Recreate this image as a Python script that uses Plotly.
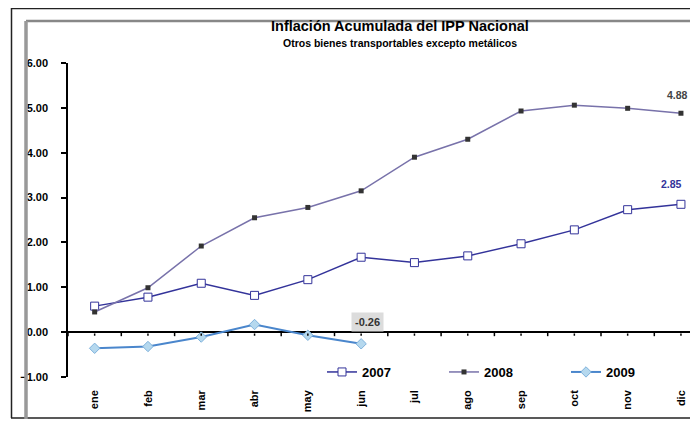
import plotly.graph_objects as go

months = ["ene", "feb", "mar", "abr", "may", "jun", "jul", "ago", "sep", "oct", "nov", "dic"]
s2007 = [0.58, 0.78, 1.09, 0.82, 1.17, 1.67, 1.55, 1.70, 1.97, 2.28, 2.73, 2.85]
s2008 = [0.45, 0.99, 1.92, 2.55, 2.78, 3.15, 3.90, 4.30, 4.93, 5.06, 4.99, 4.88]
s2009 = [-0.36, -0.32, -0.11, 0.17, -0.07, -0.26]
yticks = [-1, 0, 1, 2, 3, 4, 5, 6]

# page has an 8px body margin on every side; keep the page inside the window
OFF = 8
W, H = 698 - 2 * OFF, 427 - 2 * OFF
SL, ST, SB = 68, 63, 377                     # plot area edges in screen pixels
SR = W + OFF                                 # plot runs to the figure's right edge
L, T = SL - OFF, ST - OFF
R = 0
B = H - (SB - OFF)
PW = SR - SL
PH = SB - ST
STEP = 53.3                                  # px per category in the original
XMAX = -0.5 + PW / STEP

def px(x):
    return (x - SL) / PW

def py(y):
    return (SB - y) / PH

font = "Liberation Sans, Arial, sans-serif"

fig = go.Figure()
fig.add_trace(go.Scatter(
    x=months, y=s2007, name="2007", mode="lines+markers", legend="legend",
    line=dict(color="#33339a", width=1.5),
    marker=dict(symbol="square", size=8, color="white", line=dict(color="#33339a", width=1)),
))
fig.add_trace(go.Scatter(
    x=months, y=s2008, name="2008", mode="lines+markers", legend="legend2",
    line=dict(color="#7872aa", width=1.5),
    marker=dict(symbol="square", size=5, color="#333333", line=dict(color="#333333", width=0)),
))
fig.add_trace(go.Scatter(
    x=months[:len(s2009)], y=s2009, name="2009", mode="lines+markers", legend="legend3",
    line=dict(color="#4a86cc", width=2),
    marker=dict(symbol="diamond", size=8, color="#b5d8ee", line=dict(color="#7fb2dc", width=1)),
))

shapes = []
# frame (top, left, bottom black lines; inner grey top and left)
for (x0, y0, x1, y1) in [(11, 8.5, 720, 8.5), (11.5, 8, 11.5, 418), (11, 418, 720, 418)]:
    shapes.append(dict(type="line", xref="paper", yref="paper",
                       x0=px(x0), x1=px(x1), y0=py(y0), y1=py(y1),
                       line=dict(color="#222222", width=1.5), layer="below"))
shapes.append(dict(type="line", xref="paper", yref="paper",
                   x0=px(26), x1=px(720), y0=py(21), y1=py(21),
                   line=dict(color="#888888", width=2.5)))
shapes.append(dict(type="line", xref="paper", yref="paper",
                   x0=px(26), x1=px(26), y0=py(21), y1=py(440),
                   line=dict(color="#999999", width=3.5)))
# category-boundary and centre ticks on zero line
for i in range(len(months)):
    shapes.append(dict(type="line", xref="x", yref="y",
                       x0=i - 0.5, x1=i - 0.5, y0=0, y1=-0.09,
                       line=dict(color="black", width=1.5)))
    shapes.append(dict(type="line", xref="x", yref="y",
                       x0=i, x1=i, y0=-0.03, y1=-0.08,
                       line=dict(color="black", width=1.5)))

annotations = [
    dict(text="<b>Inflación Acumulada del IPP Nacional</b>",
         xref="paper", yref="paper", x=px(400), y=py(26), showarrow=False,
         font=dict(family=font, size=14.5, color="black"), xanchor="center", yanchor="middle"),
    dict(text="<b>Otros bienes transportables excepto metálicos</b>",
         xref="paper", yref="paper", x=px(400), y=py(43), showarrow=False,
         font=dict(family=font, size=10.5, color="black"), xanchor="center", yanchor="middle"),
    dict(text="<b>4.88</b>", x="dic", y=s2008[-1], xref="x", yref="y", showarrow=False,
         yshift=18, xshift=-3, font=dict(family=font, size=10.5, color="#444444")),
    dict(text="<b>2.85</b>", x="dic", y=s2007[-1], xref="x", yref="y", showarrow=False,
         yshift=20, xshift=-9, font=dict(family=font, size=10.5, color="#33339a")),
    dict(text="<b>-0.26</b>", x="jun", y=s2009[-1], xref="x", yref="y", showarrow=False,
         yshift=22, xshift=6, bgcolor="#dcdcdc", borderpad=3,
         font=dict(family=font, size=11, color="#333333")),
]

legfont = dict(family=font, size=13, color="black", weight="bold")
def leg(xs):
    return dict(orientation="h", x=px(xs), y=py(372), xanchor="left", yanchor="middle",
                bgcolor="rgba(0,0,0,0)", font=legfont, borderwidth=0)

fig.update_layout(
    width=W, height=H,
    margin=dict(l=L, r=R, t=T, b=B),
    paper_bgcolor="white", plot_bgcolor="white",
    showlegend=True,
    legend=leg(322), legend2=leg(444), legend3=leg(566),
    xaxis=dict(type="category", categoryorder="array", categoryarray=months,
               range=[-0.5, XMAX], showline=False, showgrid=False, ticks="",
               tickangle=-90, ticklabelstandoff=10,
               tickfont=dict(family=font, size=11, color="black", weight="bold"), zeroline=False),
    yaxis=dict(range=[-1, 6], tickvals=yticks, tickformat=".2f", showgrid=False,
               showline=True, linecolor="black", linewidth=1.5,
               ticks="outside", ticklen=5, tickcolor="black", tickwidth=1.5,
               ticklabelstandoff=11,
               zeroline=True, zerolinecolor="black", zerolinewidth=1.5,
               tickfont=dict(family=font, size=11, color="black", weight="bold")),
    shapes=shapes,
    annotations=annotations,
)

fig.write_html("out.html")
